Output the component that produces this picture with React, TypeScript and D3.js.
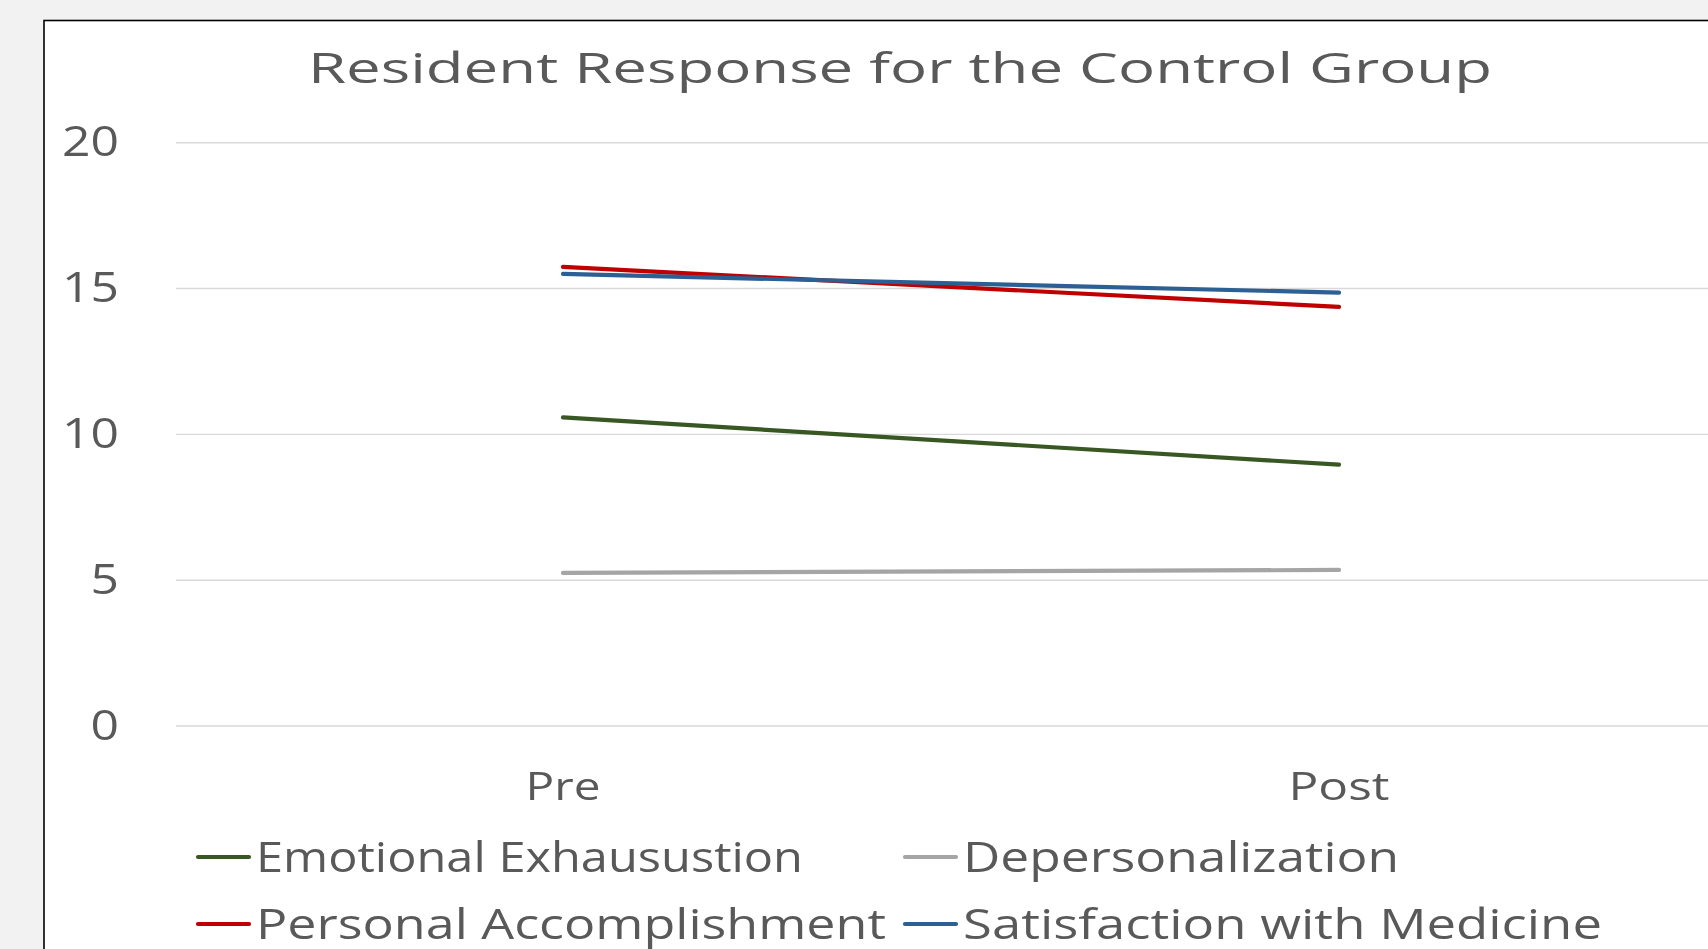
import React from "react";
import * as d3 from "d3";

// Survey phases along the x axis
const phases = ["Pre", "Post"];

// Mean scores per subscale, in phase order
const emotionalExhaustion = [10.58, 8.96];
const depersonalization = [5.25, 5.35];
const personalAccomplishment = [15.74, 14.37];
const satisfactionWithMedicine = [15.5, 14.86];

const yTicks = [0, 5, 10, 15, 20];

const seriesNames = [
  "Emotional Exhausustion",
  "Depersonalization",
  "Personal Accomplishment",
  "Satisfaction with Medicine",
];

const W = 1708;
const H = 949;
const FONT = "'Open Sans', 'Noto Sans', sans-serif";
const TEXT = "#595959";

export default function App() {
  const series = [
    { name: seriesNames[0], values: emotionalExhaustion, color: "#385723" },
    { name: seriesNames[1], values: depersonalization, color: "#a5a5a5" },
    { name: seriesNames[2], values: personalAccomplishment, color: "#c00000" },
    { name: seriesNames[3], values: satisfactionWithMedicine, color: "#2c5f93" },
  ];

  const x = d3.scalePoint<string>().domain(phases).range([175, 1727]).padding(0.5);
  const y = d3.scaleLinear().domain([0, 20]).range([726, 142.7]);

  const line = d3
    .line<number>()
    .x((_, i) => x(phases[i]) as number)
    .y((d) => y(d));

  // legend slots: [markerX, textX, rowY, textWidth]
  const legendSlots: [number, number, number, number][] = [
    [198, 256, 857, 547],
    [905, 963, 857, 436],
    [198, 256, 924, 630],
    [905, 963, 924, 639],
  ];

  const tickWidth = (s: string) => 28.5 * s.length;
  const phaseWidths: Record<string, number> = { Pre: 75, Post: 101 };

  return (
    <div style={{ position: "fixed", left: 0, top: 0 }}>
      <svg width={W} height={H} style={{ display: "block" }}>
        <rect x={0} y={0} width={W} height={H} fill="#f2f2f2" />
        <rect x={44} y={20.5} width={W} height={H} fill="#ffffff" stroke="#000" strokeWidth={1.6} />

        <text
          x={308}
          y={83}
          fontFamily={FONT}
          fontSize={42}
          fill={TEXT}
          textLength={1184}
          lengthAdjust="spacingAndGlyphs"
        >
          Resident Response for the Control Group
        </text>

        {yTicks.map((t) => (
          <g key={t}>
            <line x1={176} x2={W} y1={y(t)} y2={y(t)} stroke="#d9d9d9" strokeWidth={1.4} />
            <text
              x={119 - tickWidth(String(t))}
              y={y(t) + 13.5}
              fontFamily={FONT}
              fontSize={42}
              fill={TEXT}
              textLength={tickWidth(String(t))}
              lengthAdjust="spacingAndGlyphs"
            >
              {t}
            </text>
          </g>
        ))}

        {phases.map((p) => (
          <text
            key={p}
            x={(x(p) as number) - phaseWidths[p] / 2}
            y={800}
            fontFamily={FONT}
            fontSize={39}
            fill={TEXT}
            textLength={phaseWidths[p]}
            lengthAdjust="spacingAndGlyphs"
          >
            {p}
          </text>
        ))}

        {series.map((s) => (
          <path
            key={s.name}
            d={line(s.values) ?? ""}
            fill="none"
            stroke={s.color}
            strokeWidth={4.2}
            strokeLinecap="round"
          />
        ))}

        {series.map((s, i) => {
          const [mx, tx, ry, tw] = legendSlots[i];
          return (
            <g key={s.name}>
              <line x1={mx} x2={mx + 51} y1={ry} y2={ry} stroke={s.color} strokeWidth={4.2} strokeLinecap="round" />
              <text
                x={tx}
                y={ry + 15}
                fontFamily={FONT}
                fontSize={42}
                fill={TEXT}
                textLength={tw}
                lengthAdjust="spacingAndGlyphs"
              >
                {s.name}
              </text>
            </g>
          );
        })}
      </svg>
    </div>
  );
}
